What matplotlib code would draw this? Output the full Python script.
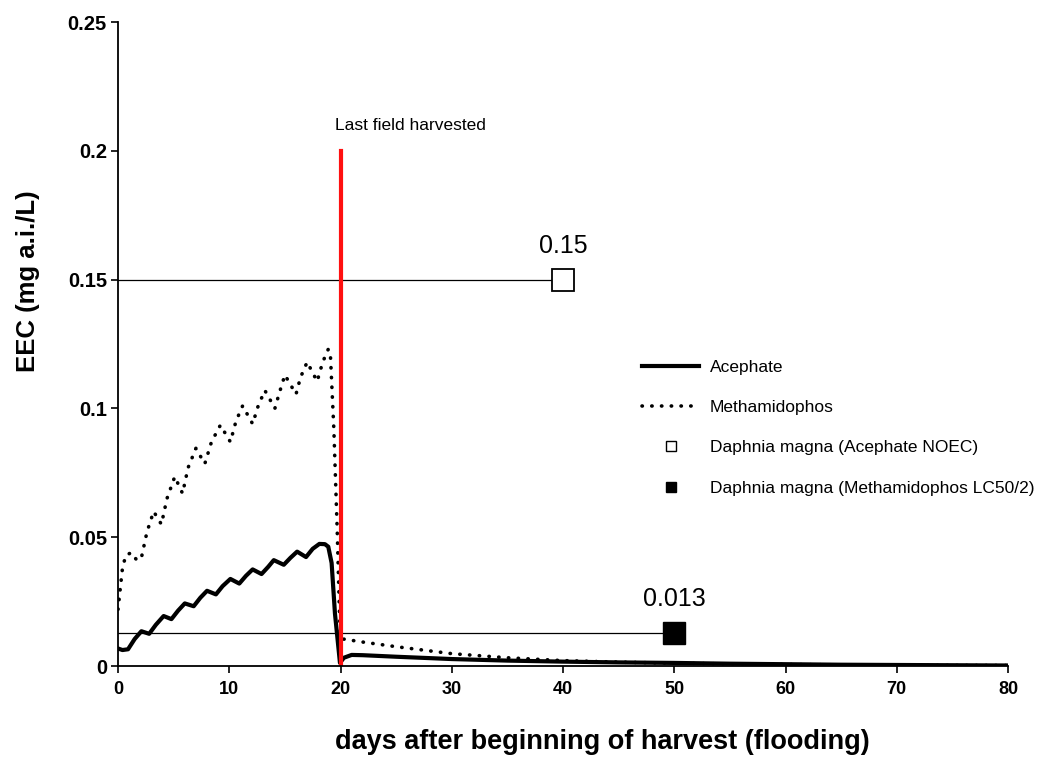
import matplotlib
matplotlib.use('Agg')
import matplotlib.pyplot as plt
from matplotlib.lines import Line2D

plt.rcParams['font.family'] = ['Liberation Sans', 'DejaVu Sans']

# Acephate EEC (mg a.i./L)
ace_days = [0, 0.4, 0.9, 1.5, 2.1, 2.8, 3.4, 4.1, 4.8, 5.4, 6.0, 6.8, 7.4, 8.0, 8.8,
            9.4, 10.1, 10.9, 11.5, 12.1, 12.9, 13.5, 14.0, 14.9, 15.5, 16.1, 16.9,
            17.5, 18.1, 18.6, 18.9, 19.2, 19.5, 19.95, 20.3, 21.0, 22, 25, 30, 35,
            40, 45, 50, 55, 60, 65, 70, 75, 80]
ace_eec = [0.0068, 0.0062, 0.0065, 0.0105, 0.0135, 0.0125, 0.0160, 0.0194, 0.0182,
           0.0215, 0.0243, 0.0232, 0.0265, 0.0292, 0.0278, 0.0310, 0.0338, 0.0320,
           0.0350, 0.0375, 0.0357, 0.0385, 0.0411, 0.0393, 0.0420, 0.0444, 0.0423,
           0.0455, 0.0474, 0.0473, 0.0463, 0.0400, 0.0204, 0.0012, 0.0032, 0.0043,
           0.0042, 0.0036, 0.0027, 0.0021, 0.0017, 0.0014, 0.0012, 0.0009, 0.0007,
           0.0005, 0.0004, 0.0003, 0.0002]

# Methamidophos EEC (mg a.i./L)
met_days = [0, 0.2, 0.4, 0.7, 1.2, 1.7, 2.1, 2.6, 3.2, 3.9, 4.4, 5.1, 5.8, 6.3, 7.0,
            7.8, 8.4, 9.2, 10.1, 10.6, 11.2, 12.1, 12.6, 13.2, 14.1, 14.5, 15.0,
            16.0, 16.4, 17.0, 17.9, 18.4, 18.9, 19.1, 19.4, 19.7, 19.95, 20.2, 22,
            25, 30, 35, 40, 45, 50, 55, 60, 70, 80]
met_eec = [0.022, 0.030, 0.038, 0.043, 0.044, 0.041, 0.042, 0.052, 0.060, 0.055,
           0.065, 0.0735, 0.067, 0.077, 0.0845, 0.0785, 0.087, 0.0935, 0.087, 0.095,
           0.101, 0.094, 0.101, 0.107, 0.100, 0.106, 0.113, 0.1055, 0.112, 0.118,
           0.1105, 0.118, 0.123, 0.120, 0.092, 0.053, 0.014, 0.0105, 0.0093, 0.0075,
           0.0048, 0.0032, 0.0021, 0.0015, 0.0011, 0.0008, 0.0006, 0.0003, 0.0002]

# toxicity thresholds
noec_day, noec_val = 40, 0.15
lc50_day, lc50_val = 50, 0.013
harvest_day, harvest_top = 20, 0.2

dots = (0, (0.1, 2.6))

fig = plt.figure(figsize=(10.5, 7.57), dpi=100)
ax = fig.add_axes([0.1124, 0.1202, 0.8476, 0.8507])

ax.plot([0, noec_day], [noec_val, noec_val], color='black', lw=0.9)
ax.plot([0, lc50_day], [lc50_val, lc50_val], color='black', lw=0.9)

ax.plot(ace_days, ace_eec, color='black', lw=3, solid_joinstyle='round')
ax.plot(met_days, met_eec, color='black', lw=2.6, ls=dots, dash_capstyle='round')

ax.plot([harvest_day, harvest_day], [0, harvest_top], color='#ff1010', lw=3)

ax.plot(noec_day, noec_val, marker='s', ms=16.5, mfc='white', mec='black', mew=1.3)
ax.plot(lc50_day, lc50_val, marker='s', ms=16.5, mfc='black', mec='black')

ax.text(noec_day, noec_val + 0.0085, '0.15', fontsize=18, ha='center', va='bottom')
ax.text(lc50_day, lc50_val + 0.0085, '0.013', fontsize=18, ha='center', va='bottom')
ax.text(26.3, 0.21, 'Last field harvested', fontsize=12.5, ha='center', va='center')

ax.set_xlim(0, 80)
ax.set_ylim(0, 0.25)
ax.set_xticks([0, 10, 20, 30, 40, 50, 60, 70, 80])
ax.set_yticks([0, 0.05, 0.1, 0.15, 0.2, 0.25])
ax.set_yticklabels(['0', '0.05', '0.1', '0.15', '0.2', '0.25'])
for lab in ax.get_xticklabels():
    lab.set_fontweight('bold')
    lab.set_fontsize(13)
for lab in ax.get_yticklabels():
    lab.set_fontweight('bold')
    lab.set_fontsize(14.5)
ax.tick_params(direction='out', length=5, width=1.2, colors='black')
ax.tick_params(axis='x', pad=6)
ax.tick_params(axis='y', pad=3)

for side in ['top', 'right']:
    ax.spines[side].set_visible(False)
for side in ['left', 'bottom']:
    ax.spines[side].set_linewidth(1.3)

ax.set_xlabel('days after beginning of harvest (flooding)', fontsize=19.5, fontweight='bold')
ax.set_ylabel('EEC (mg a.i./L)', fontsize=18.5, fontweight='bold')
ax.xaxis.set_label_coords(0.544, -0.098)
ax.yaxis.set_label_coords(-0.0876, 0.598)

handles = [
    Line2D([], [], color='black', lw=3),
    Line2D([], [], color='black', lw=2.6, ls=dots, dash_capstyle='round'),
    Line2D([], [], marker='s', ls='none', ms=7, mfc='white', mec='black', mew=1),
    Line2D([], [], marker='s', ls='none', ms=7, mfc='black', mec='black'),
]
labels = ['Acephate', 'Methamidophos', 'Daphnia magna (Acephate NOEC)',
          'Daphnia magna (Methamidophos LC50/2)']
fig.legend(handles, labels, loc='upper left', bbox_to_anchor=(642 / 1050, 1 - 360 / 757),
           frameon=False, fontsize=12.5, handlelength=3.3, handletextpad=0.6,
           labelspacing=1.44, borderpad=0, borderaxespad=0)

fig.savefig('out.png', dpi=100)
